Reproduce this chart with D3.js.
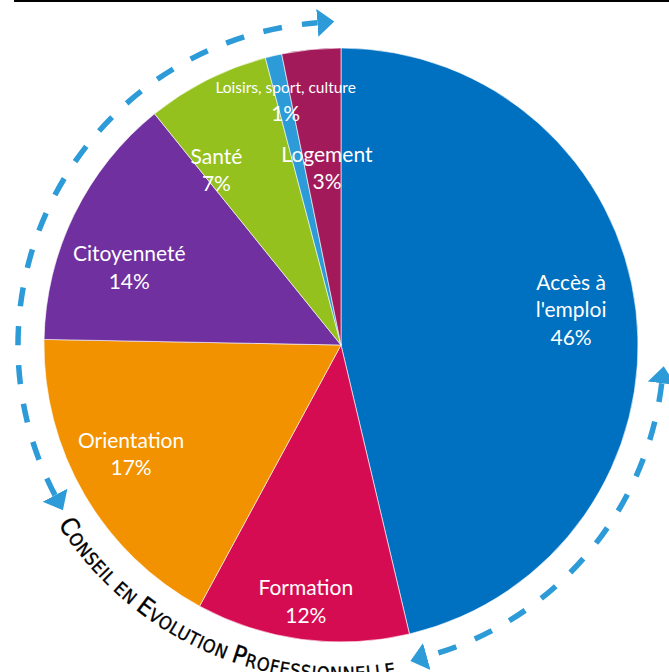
<!DOCTYPE html>
<meta charset="utf-8">
<html>
<head>
<style>
body { margin: 0; background: #fff; }
svg text { font-family: Lato, "Open Sans", sans-serif; fill: #fff; }
text.curved { fill: #000; font-family: "DejaVu Sans Condensed", "DejaVu Sans", sans-serif; font-stretch: condensed; stroke: #000; stroke-width: 0.35; }
</style>
</head>
<body>
<svg class="chart" width="669" height="672"></svg>
<script src="https://d3js.org/d3.v7.min.js"></script>
<script>

const categories = ["Accès à l'emploi", "Formation", "Orientation", "Citoyenneté", "Santé", "Loisirs, sport, culture", "Logement"]
const labelLines = [["Accès à", "l'emploi"], ["Formation"], ["Orientation"], ["Citoyenneté"], ["Santé"], ["Loisirs, sport, culture"], ["Logement"]]
const shares = [46.3, 11.6, 17.4, 13.9, 6.7, 0.9, 3.2]
const colors = ["#0070c0", "#d60c53", "#f29200", "#7030a0", "#95c11f", "#2c9bd8", "#a31a5b"]
const curvedTitle = [["C", "ONSEIL "], ["", "EN "], ["E", "VOLUTION "], ["P", "ROFESSIONNELLE"]]

// layout (pixels)
const cx = 341, cy = 345, R = 297
const ringR = 323, textR = 335
// label placement: fraction of radius + angle nudge (deg)
const labelR = [0.78, 0.9, 0.81, 0.75, 0.7, 0.82, 0.57]
const labelNudge = [0, 0, 1, -8, -10, 0, 1]

const deg = Math.PI / 180
const svg = d3.select("svg.chart")

svg.append("line")
  .attr("x1", 14).attr("x2", 669)
  .attr("y1", 1).attr("y2", 1)
  .attr("stroke", "#000").attr("stroke-width", 2)

const g = svg.append("g").attr("transform", "translate(" + cx + "," + cy + ")")

const pie = d3.pie().sort(null).value((d) => d)
const arcs = pie(shares)
const arc = d3.arc().innerRadius(0).outerRadius(R)

g.selectAll("path.slice")
  .data(arcs)
  .enter().append("path")
  .attr("class", "slice")
  .attr("d", arc)
  .attr("fill", (d, i) => colors[i])
  .attr("stroke", "#fff")
  .attr("stroke-width", 0.6)

// labels
const labels = g.selectAll("g.label")
  .data(arcs)
  .enter().append("g")
  .attr("class", "label")
  .attr("transform", (d, i) => {
    var r = labelR[i] * R
    var a = (d.startAngle + d.endAngle) / 2 + labelNudge[i] * deg
    var c = d3.arc().innerRadius(r).outerRadius(r).startAngle(a).endAngle(a).centroid()
    return "translate(" + c[0] + "," + c[1] + ")"
  })

labels.each(function (d, i) {
  var lines = labelLines[i].concat([Math.round(d.data) + "%"])
  var lh = 27.5
  var top = -(lines.length - 1) * lh / 2 - 1
  d3.select(this).selectAll("text")
    .data(lines)
    .enter().append("text")
    .attr("text-anchor", "middle")
    .attr("y", (t, j) => top + j * lh)
    .style("font-size", (t, j) => (i == 5 && j == 0) ? "15.5px" : "21px")
    .text((t) => t)
})

// dashed arrows round the pie
const defs = svg.append("defs")
defs.append("marker")
  .attr("id", "head")
  .attr("markerUnits", "userSpaceOnUse")
  .attr("markerWidth", 20).attr("markerHeight", 30)
  .attr("viewBox", "0 -15 20 30")
  .attr("refX", 0).attr("refY", 0)
  .attr("orient", "auto-start-reverse")
  .append("path")
  .attr("d", "M0,-14L17,0L0,14Z")
  .attr("fill", "#2c9bd8")

const ringArcs = [[242.3, 355.8], [96.8, 164.6]]
ringArcs.forEach((a) => {
  var p = d3.path()
  p.arc(0, 0, ringR, (a[0] - 90) * deg, (a[1] - 90) * deg, false)
  g.append("path")
    .attr("d", p.toString())
    .attr("fill", "none")
    .attr("stroke", "#2c9bd8")
    .attr("stroke-width", 5.5)
    .attr("stroke-dasharray", "19,20")
    .attr("marker-start", "url(#head)")
    .attr("marker-end", "url(#head)")
})

// curved title, counterclockwise along the bottom
const tp = d3.path()
tp.arc(0, 0, textR, (250 - 90) * deg, (140 - 90) * deg, true)
defs.append("path").attr("id", "titlePath")
  .attr("d", tp.toString())
  .attr("transform", "translate(" + cx + "," + cy + ")")

const tpath = svg.append("text")
  .attr("class", "curved")
  .append("textPath")
  .attr("href", "#titlePath")
  .attr("startOffset", (250 - 237.6) * deg * textR)
  .attr("textLength", 67 * deg * textR)
  .attr("lengthAdjust", "spacing")

curvedTitle.forEach((w) => {
  if (w[0]) tpath.append("tspan").style("font-size", "25px").text(w[0])
  tpath.append("tspan").style("font-size", "18px").text(w[1])
})

</script>
</body>
</html>
